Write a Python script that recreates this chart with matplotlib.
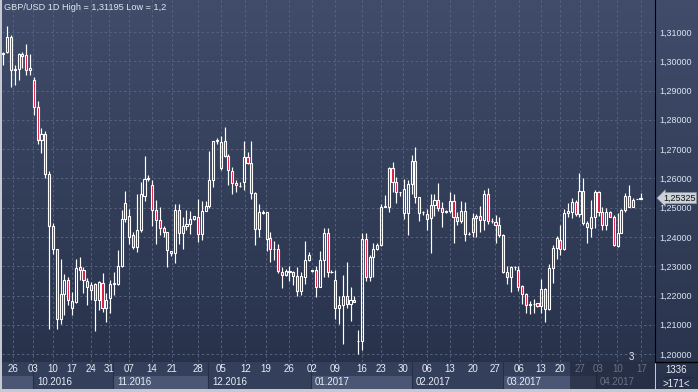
import numpy as np
import matplotlib
matplotlib.use('Agg')
import matplotlib.pyplot as plt
from matplotlib import transforms
from matplotlib.colors import LinearSegmentedColormap
from matplotlib.lines import Line2D

plt.rcParams['font.family'] = ['Liberation Sans', 'DejaVu Sans']

# GBP/USD daily bars (Sep 2016 - Apr 2017)
opens = [1.3024, 1.3032, 1.3081, 1.2969, 1.2975, 1.3019, 1.3020, 1.2969, 1.2935, 1.2842,
         1.2730, 1.2750, 1.2616, 1.2437, 1.2360, 1.2121, 1.2204, 1.2252, 1.2159, 1.2178,
         1.2298, 1.2286, 1.2250, 1.2218, 1.2239, 1.2184, 1.2244, 1.2159, 1.2190, 1.2241,
         1.2241, 1.2301, 1.2460, 1.2473, 1.2405, 1.2365, 1.2422, 1.2541, 1.2598, 1.2579,
         1.2492, 1.2458, 1.2431, 1.2418, 1.2352, 1.2344, 1.2492, 1.2413, 1.2438, 1.2445,
         1.2462, 1.2467, 1.2410, 1.2490, 1.2504, 1.2593, 1.2727, 1.2636, 1.2727, 1.2676,
         1.2625, 1.2585, 1.2575, 1.2587, 1.2672, 1.2653, 1.2549, 1.2428, 1.2483, 1.2486,
         1.2396, 1.2359, 1.2359, 1.2282, 1.2270, 1.2281, 1.2279, 1.2265, 1.2214, 1.2264,
         1.2321, 1.2287, 1.2287, 1.2228, 1.2321, 1.2415, 1.2282, 1.2253, 1.2157, 1.2169,
         1.2199, 1.2171, 1.2184, 1.2043, 1.2043, 1.2393, 1.2264, 1.2330, 1.2359, 1.2373,
         1.2501, 1.2503, 1.2635, 1.2586, 1.2553, 1.2481, 1.2481, 1.2581, 1.2660, 1.2538,
         1.2485, 1.2478, 1.2464, 1.2510, 1.2526, 1.2499, 1.2486, 1.2487, 1.2524, 1.2467,
         1.2453, 1.2488, 1.2411, 1.2416, 1.2465, 1.2472, 1.2458, 1.2547, 1.2456, 1.2450,
         1.2441, 1.2407, 1.2282, 1.2263, 1.2298, 1.2288, 1.2231, 1.2206, 1.2168, 1.2172,
         1.2174, 1.2163, 1.2222, 1.2154, 1.2293, 1.2361, 1.2390, 1.2358, 1.2481, 1.2486,
         1.2520, 1.2478, 1.2558, 1.2449, 1.2430, 1.2467, 1.2555, 1.2486, 1.2441, 1.2486,
         1.2469, 1.2369, 1.2415, 1.2492, 1.2540, 1.2503, 1.2530, 1.2530]
highs = [1.3032, 1.3120, 1.3089, 1.2988, 1.3028, 1.3032, 1.3058, 1.3026, 1.2946, 1.2863,
         1.2773, 1.2762, 1.2625, 1.2446, 1.2360, 1.2326, 1.2273, 1.2264, 1.2212, 1.2323,
         1.2330, 1.2298, 1.2261, 1.2247, 1.2243, 1.2249, 1.2277, 1.2209, 1.2252, 1.2279,
         1.2355, 1.2493, 1.2557, 1.2496, 1.2416, 1.2547, 1.2587, 1.2675, 1.2613, 1.2593,
         1.2527, 1.2502, 1.2439, 1.2418, 1.2352, 1.2511, 1.2511, 1.2467, 1.2492, 1.2490,
         1.2472, 1.2530, 1.2524, 1.2524, 1.2695, 1.2729, 1.2738, 1.2746, 1.2777, 1.2684,
         1.2638, 1.2593, 1.2587, 1.2729, 1.2690, 1.2729, 1.2553, 1.2513, 1.2492, 1.2486,
         1.2416, 1.2387, 1.2376, 1.2296, 1.2290, 1.2302, 1.2285, 1.2296, 1.2279, 1.2387,
         1.2347, 1.2287, 1.2302, 1.2351, 1.2430, 1.2430, 1.2287, 1.2287, 1.2199, 1.2271,
         1.2316, 1.2230, 1.2199, 1.2082, 1.2412, 1.2412, 1.2339, 1.2378, 1.2378, 1.2512,
         1.2544, 1.2640, 1.2655, 1.2606, 1.2553, 1.2598, 1.2594, 1.2681, 1.2708, 1.2538,
         1.2490, 1.2496, 1.2547, 1.2547, 1.2583, 1.2518, 1.2492, 1.2552, 1.2547, 1.2484,
         1.2524, 1.2518, 1.2416, 1.2481, 1.2478, 1.2507, 1.2560, 1.2567, 1.2465, 1.2476,
         1.2469, 1.2410, 1.2302, 1.2302, 1.2302, 1.2302, 1.2236, 1.2210, 1.2180, 1.2188,
         1.2176, 1.2256, 1.2225, 1.2308, 1.2373, 1.2403, 1.2441, 1.2494, 1.2515, 1.2532,
         1.2526, 1.2617, 1.2600, 1.2456, 1.2526, 1.2560, 1.2558, 1.2501, 1.2498, 1.2490,
         1.2475, 1.2481, 1.2494, 1.2551, 1.2577, 1.2532, 1.2530, 1.2551]
lows = [1.2986, 1.3028, 1.2912, 1.2918, 1.2937, 1.2977, 1.2952, 1.2952, 1.2816, 1.2716,
        1.2685, 1.2602, 1.2084, 1.2343, 1.2087, 1.2104, 1.2133, 1.2167, 1.2133, 1.2175,
        1.2252, 1.2209, 1.2167, 1.2186, 1.2079, 1.2152, 1.2144, 1.2110, 1.2141, 1.2201,
        1.2235, 1.2298, 1.2451, 1.2376, 1.2359, 1.2348, 1.2416, 1.2524, 1.2590, 1.2439,
        1.2376, 1.2405, 1.2399, 1.2297, 1.2336, 1.2310, 1.2376, 1.2359, 1.2422, 1.2410,
        1.2458, 1.2382, 1.2388, 1.2490, 1.2499, 1.2570, 1.2718, 1.2629, 1.2672, 1.2576,
        1.2547, 1.2553, 1.2570, 1.2559, 1.2650, 1.2530, 1.2371, 1.2399, 1.2478, 1.2353,
        1.2313, 1.2321, 1.2276, 1.2224, 1.2265, 1.2250, 1.2236, 1.2199, 1.2202, 1.2241,
        1.2319, 1.2279, 1.2194, 1.2228, 1.2264, 1.2262, 1.2276, 1.2120, 1.2103, 1.2034,
        1.2159, 1.2114, 1.2177, 1.2000, 1.2014, 1.2250, 1.2248, 1.2262, 1.2355, 1.2370,
        1.2501, 1.2486, 1.2552, 1.2515, 1.2541, 1.2461, 1.2408, 1.2547, 1.2515, 1.2453,
        1.2476, 1.2424, 1.2344, 1.2473, 1.2488, 1.2435, 1.2481, 1.2481, 1.2379, 1.2442,
        1.2447, 1.2385, 1.2405, 1.2401, 1.2401, 1.2416, 1.2424, 1.2444, 1.2447, 1.2379,
        1.2401, 1.2276, 1.2240, 1.2212, 1.2288, 1.2217, 1.2172, 1.2140, 1.2138, 1.2140,
        1.2160, 1.2140, 1.2108, 1.2149, 1.2244, 1.2324, 1.2339, 1.2356, 1.2469, 1.2464,
        1.2472, 1.2467, 1.2441, 1.2378, 1.2401, 1.2430, 1.2472, 1.2422, 1.2422, 1.2467,
        1.2369, 1.2367, 1.2413, 1.2486, 1.2501, 1.2501, 1.2530, 1.2528]
closes = [1.3028, 1.3081, 1.2969, 1.2974, 1.3024, 1.3024, 1.2969, 1.2978, 1.2842, 1.2730,
          1.2750, 1.2616, 1.2437, 1.2360, 1.2121, 1.2204, 1.2252, 1.2186, 1.2180, 1.2295,
          1.2286, 1.2252, 1.2229, 1.2237, 1.2186, 1.2247, 1.2159, 1.2186, 1.2241, 1.2243,
          1.2301, 1.2460, 1.2517, 1.2399, 1.2365, 1.2422, 1.2547, 1.2598, 1.2601, 1.2492,
          1.2458, 1.2431, 1.2416, 1.2354, 1.2344, 1.2492, 1.2413, 1.2439, 1.2445, 1.2462,
          1.2470, 1.2410, 1.2490, 1.2507, 1.2593, 1.2727, 1.2732, 1.2724, 1.2675, 1.2627,
          1.2585, 1.2576, 1.2574, 1.2672, 1.2653, 1.2549, 1.2428, 1.2484, 1.2486, 1.2393,
          1.2359, 1.2358, 1.2285, 1.2270, 1.2285, 1.2283, 1.2265, 1.2214, 1.2265, 1.2321,
          1.2339, 1.2285, 1.2228, 1.2321, 1.2415, 1.2279, 1.2279, 1.2157, 1.2169, 1.2199,
          1.2171, 1.2184, 1.2177, 1.2043, 1.2393, 1.2264, 1.2330, 1.2359, 1.2373, 1.2503,
          1.2505, 1.2635, 1.2586, 1.2552, 1.2552, 1.2564, 1.2581, 1.2660, 1.2535, 1.2481,
          1.2484, 1.2461, 1.2510, 1.2526, 1.2499, 1.2484, 1.2487, 1.2524, 1.2467, 1.2453,
          1.2488, 1.2410, 1.2410, 1.2465, 1.2472, 1.2458, 1.2547, 1.2453, 1.2455, 1.2441,
          1.2405, 1.2280, 1.2263, 1.2297, 1.2297, 1.2229, 1.2206, 1.2168, 1.2172, 1.2171,
          1.2163, 1.2222, 1.2154, 1.2293, 1.2361, 1.2396, 1.2358, 1.2483, 1.2490, 1.2520,
          1.2478, 1.2558, 1.2449, 1.2433, 1.2467, 1.2555, 1.2486, 1.2441, 1.2486, 1.2469,
          1.2373, 1.2415, 1.2492, 1.2540, 1.2503, 1.2526, 1.2530, 1.25325]

# weekly date labels (bar index of each week start)
week_idx = [2.5, 7.8, 13.0, 18.0, 23.0, 27.7, 32.9, 39.0, 44.2, 51.0, 57.1, 63.4, 68.9, 74.9, 80.9,
            86.9, 94.0, 99.0, 104.8, 111.1, 117.1, 123.1, 128.9, 135.2, 140.9, 145.9, 151.2, 155.9,
            160.9, 167.2]
week_labels = ['26', '03', '10', '17', '24', '31', '07', '14', '21', '28', '05', '12', '19', '26', '02',
               '09', '16', '23', '30', '06', '13', '20', '27', '06', '13', '20', '27', '03', '10', '17']
month_start = [7.8, 28.8, 53.7, 80.7, 107.1, 131.0, 155.3]
month_labels = ['10.2016', '11.2016', '12.2016', '01.2017', '02.2017', '03.2017', '04.2017']

W, H = 698, 392
XMIN, XMAX = -0.35, 170.8
YMIN, YMAX = 1.1973, 1.3209

fig = plt.figure(figsize=(W / 100, H / 100), dpi=100, facecolor='#c4c9d2')

bg = LinearSegmentedColormap.from_list('bg', ['#404c6a', '#28324b'])
grad = np.linspace(0, 1, 256).reshape(-1, 1)

# right price panel (added first so the tick labels sit on top)
pax = fig.add_axes([656 / W, 3 / H, 42 / W, 389 / H])
pax.imshow(grad, cmap=bg, aspect='auto', extent=[0, 1, 0, 1])
pax.set_xlim(0, 1); pax.set_ylim(0, 1)
pax.set_axis_off()

ax = fig.add_axes([2 / W, (H - 362) / H, 653 / W, 362 / H])
ax.imshow(grad, cmap=bg, aspect='auto', extent=[XMIN, XMAX, YMIN, YMAX], zorder=0)
ax.set_xlim(XMIN, XMAX)
ax.set_ylim(YMIN, YMAX)

levels = np.round(np.arange(1.20, 1.3101, 0.01), 2)
ax.set_yticks(levels)
ax.set_xticks(week_idx)
ax.set_xticklabels([])
ax.yaxis.tick_right()
ax.yaxis.set_major_formatter(plt.FuncFormatter(lambda v, p: f'{v:.5f}'.replace('.', ',')))
ax.tick_params(axis='y', length=0, pad=3, labelsize=6.5, labelcolor='#dbe4f3')
ax.tick_params(axis='x', length=0)
ax.grid(True, color='#56627f', linestyle=(0, (2.5, 2.5)), linewidth=0.7, zorder=1)
for s in ['top', 'left']:
    ax.spines[s].set_visible(False)
ax.spines['right'].set_color('black')
ax.spines['bottom'].set_color('black')

x = np.arange(len(opens))
o = np.array(opens); c = np.array(closes); h = np.array(highs); l = np.array(lows)
top = np.maximum(o, c); bot = np.minimum(o, c)
hgt = np.maximum(top - bot, 0.00004)
up = c >= o
ax.vlines(x, top, np.maximum(h, top), color='white', lw=0.85, zorder=3)
ax.vlines(x, np.minimum(l, bot), bot, color='white', lw=0.85, zorder=3)
ax.bar(x[up], hgt[up], bottom=bot[up], width=0.55, facecolor='none', edgecolor='white', lw=0.8, zorder=4)
ax.bar(x[~up], hgt[~up], bottom=bot[~up], width=0.55, facecolor='#dc143c', edgecolor='white', lw=0.8, zorder=4)

# last price tag
trans = transforms.blended_transform_factory(ax.transAxes, ax.transData)
ax.text(1.012, closes[-1], f'{closes[-1]:.5f}'.replace('.', ','), transform=trans, fontsize=6.5,
        color='#111111', va='center', ha='left', clip_on=False, zorder=10,
        bbox=dict(boxstyle='larrow,pad=0.12', fc='#cdd1d8', ec='#8a92a3', lw=0.5))

# date strip
dax = fig.add_axes([2 / W, 3 / H, 653 / W, 27 / H])
dax.set_facecolor('#34405b')
dax.set_xlim(XMIN, XMAX)
dax.set_ylim(0, 2)
dax.set_xticks([]); dax.set_yticks([])
for s in dax.spines.values():
    s.set_visible(False)
edges = [XMIN] + month_start + [XMAX]
for i in range(0, len(edges) - 1, 2):
    dax.axvspan(edges[i], edges[i + 1], ymin=0.0, ymax=0.5, color='#4a5673', lw=0)
for m in month_start:
    dax.axvline(m, color='#262f45', lw=0.8)
for xi, lab in zip(week_idx, week_labels):
    dax.text(xi, 1.45, lab, ha='center', va='center', fontsize=7, color='#e8edf6')
for m, lab in zip(month_start, month_labels):
    dax.text(m + 1.0, 0.5, lab, ha='left', va='center', fontsize=7, color='#e8edf6')
dax.axvspan(148.5, XMAX, color='#1e2538', alpha=0.62, lw=0, zorder=5)

# header and small texts
fig.text(4 / W, 1 - 8 / H, 'GBP/USD 1D High = 1,31195 Low = 1,2', fontsize=6.6, color='#dfe5ef',
         ha='left', va='center')
fig.text(631 / W, 1 - 357 / H, '3', fontsize=7, color='#e8edf6', ha='center', va='center')
fig.text(676 / W, 1 - 370 / H, '1336', fontsize=7, color='#e8edf6', ha='center', va='center')
fig.text(676 / W, 1 - 384 / H, '>171<', fontsize=7, color='#e8edf6', ha='center', va='center')
fig.add_artist(Line2D([655 / W, 1], [1 - 362 / H] * 2, color='black', lw=1))
fig.add_artist(Line2D([664 / W, 692 / W], [1 - 377 / H] * 2, color='#22293b', lw=0.8))

fig.savefig('out.png', dpi=100, facecolor=fig.get_facecolor())
